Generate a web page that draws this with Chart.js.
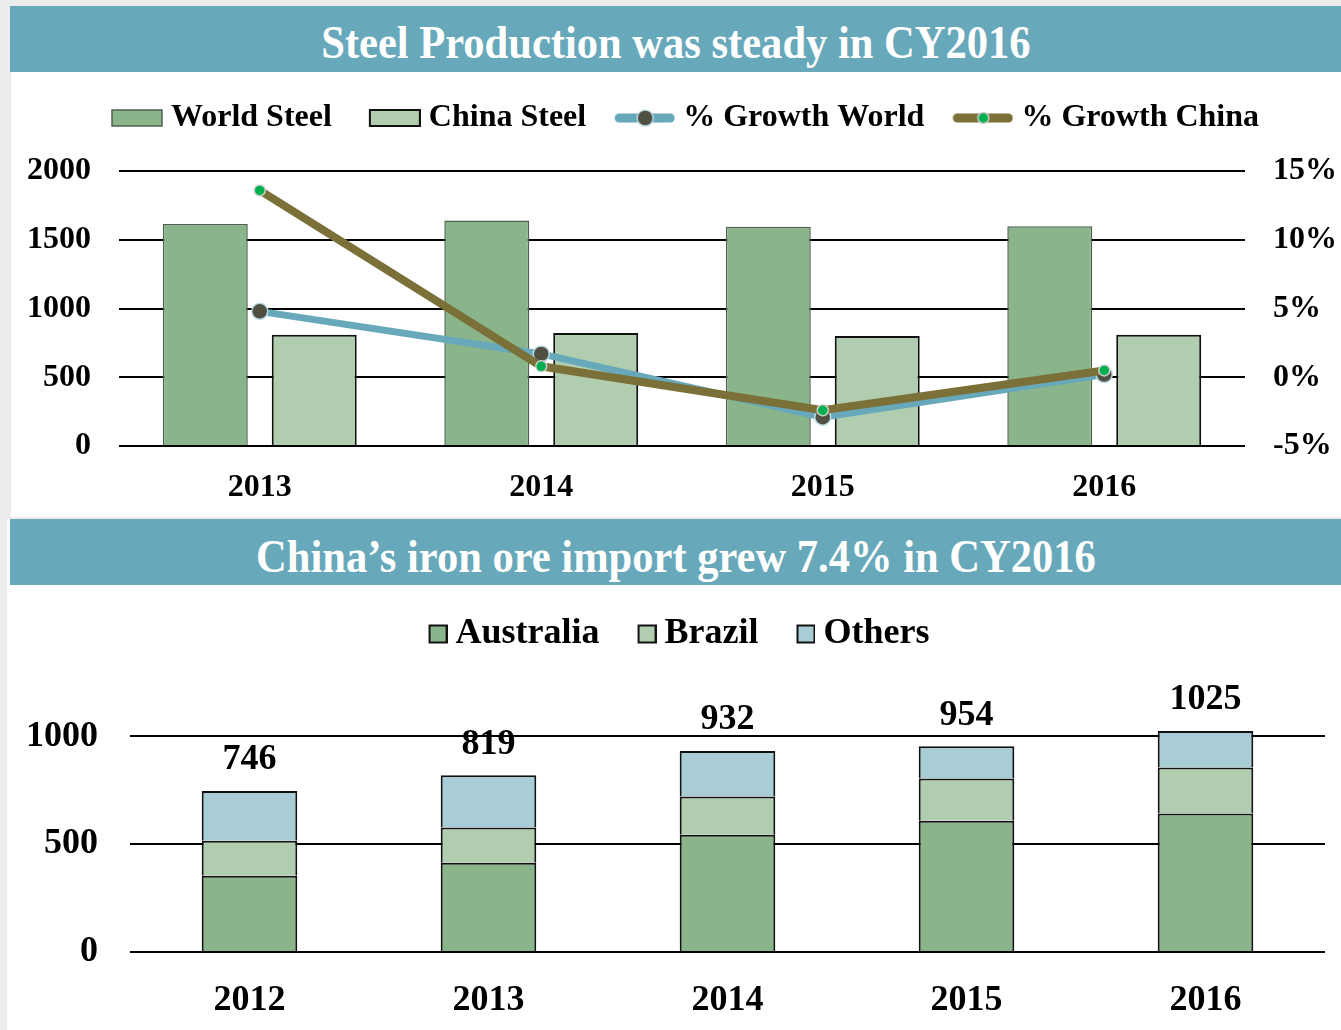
<!DOCTYPE html>
<html>
<head>
<meta charset="utf-8">
<script src="https://cdn.jsdelivr.net/npm/chart.js@4.4.0/dist/chart.umd.min.js"></script>
<style>
  body { margin: 0; width: 1341px; height: 1030px; background: #ececec; overflow: hidden; position: relative; font-family: 'Liberation Serif', 'Times New Roman', serif; }
  .panel { position: absolute; background: #fff; }
  .band { position: absolute; background: #67a8ba; color: #fff; font-weight: bold; font-size: 47px; text-align: center; white-space: nowrap; }
  .band span { display: inline-block; transform: scaleX(0.905); }
  .box { position: absolute; }
</style>
</head>
<body>
<div class="panel" style="left:11px; top:6px; width:1330px; height:511px;"></div>
<div class="panel" style="left:7px; top:519px; width:1334px; height:511px;"></div>
<div class="band" style="left:10px; top:6px; width:1331px; height:66px; line-height:72px;"><span>Steel Production was steady in CY2016</span></div>
<div class="band" style="left:10px; top:519px; width:1331px; height:66px; line-height:74px;"><span>China’s iron ore import grew 7.4% in CY2016</span></div>
<div class="box" style="left:10px; top:72px; width:1331px; height:443px;"><canvas id="steelChart"></canvas></div>
<div class="box" style="left:8px; top:586px; width:1333px; height:444px;"><canvas id="oreChart"></canvas></div>
<script>
// Steel production (top chart)
const steelYears = ['2013', '2014', '2015', '2016'];
const worldSteel = [1615, 1641, 1595, 1600];
const chinaSteel = [810, 822, 800, 810];
const growthWorld = [4.8, 1.7, -2.9, 0.2];
const growthChina = [13.6, 0.8, -2.4, 0.5];

// Iron ore imports (bottom chart)
const oreYears = ['2012', '2013', '2014', '2015', '2016'];
const australia = [353, 414, 544, 609, 642];
const brazil = [163, 163, 177, 196, 214];
const others = [230, 242, 211, 149, 169];
const oreTicks = [0, 500, 1000];

const serif = "'Liberation Serif', 'Times New Roman', serif";

// legend symbols drawn into small canvases, right aligned so they sit close to the text
function symbolCanvas(w, h, draw) {
    const c = document.createElement('canvas');
    c.width = w;
    c.height = h;
    draw(c.getContext('2d'), w, h);
    return c;
}

function barSymbol(w, fill, border, bw, sw, sh) {
    return symbolCanvas(w, sh + 4, (g, W, H) => {
        g.fillStyle = fill;
        g.fillRect(W - sw - 1, 2, sw, sh);
        g.strokeStyle = border;
        g.lineWidth = bw;
        g.strokeRect(W - sw - 1, 2, sw, sh);
    });
}

function lineSymbol(w, lineColor, dot, ring, r) {
    return symbolCanvas(w, 20, (g, W, H) => {
        g.strokeStyle = lineColor;
        g.lineWidth = 9;
        g.lineCap = 'round';
        g.beginPath();
        g.moveTo(W - 56, H / 2);
        g.lineTo(W - 5, H / 2);
        g.stroke();
        g.beginPath();
        g.arc(W - 30, H / 2, r, 0, Math.PI * 2);
        g.fillStyle = dot;
        g.fill();
        g.lineWidth = 1.5;
        g.strokeStyle = ring;
        g.stroke();
    });
}

const steelSymbols = [
    barSymbol(71, '#8ab48a', '#4f5f4f', 1.5, 50, 16),
    barSymbol(71, '#b0cdb0', '#111', 2, 50, 16),
    lineSymbol(71, '#67a8ba', '#4f4f42', '#b9dbe3', 8),
    lineSymbol(71, '#7a7038', '#00b050', '#cfcfcf', 5.5)
];

const oreSymbols = [
    barSymbol(40, '#8ab48a', '#111', 2, 17, 17),
    barSymbol(40, '#b0cdb0', '#111', 2, 17, 17),
    barSymbol(40, '#a9cdd6', '#111', 2, 17, 17)
];

function legendItems(symbols) {
    return chart => chart.data.datasets.map((ds, i) => ({
        text: ds.label,
        pointStyle: symbols[i],
        datasetIndex: i,
        hidden: false,
        fontColor: '#000',
        lineWidth: 0
    }));
}

// total above each stacked column
const totalLabels = {
    id: 'totalLabels',
    afterDatasetsDraw(chart) {
        const ctx = chart.ctx;
        const x = chart.scales.x;
        const y = chart.scales.y;
        ctx.save();
        ctx.font = 'bold 36px ' + serif;
        ctx.fillStyle = '#000';
        ctx.textAlign = 'center';
        ctx.textBaseline = 'middle';
        oreYears.forEach((yr, i) => {
            const total = australia[i] + brazil[i] + others[i];
            ctx.fillText(String(total), x.getPixelForValue(i), y.getPixelForValue(total) - 31);
        });
        ctx.restore();
    }
};

const ctx1 = document.getElementById('steelChart');

new Chart(ctx1, {
    type: 'bar',
    data: {
        labels: steelYears,
        datasets: [{
            label: 'World Steel',
            data: worldSteel,
            backgroundColor: '#8ab48a',
            borderColor: '#4f5f4f',
            borderWidth: 1.5,
            yAxisID: 'y',
            order: 2
        }, {
            label: 'China Steel',
            data: chinaSteel,
            backgroundColor: '#b0cdb0',
            borderColor: '#111',
            borderWidth: 2,
            yAxisID: 'y',
            order: 3
        }, {
            type: 'line',
            label: '% Growth World',
            data: growthWorld,
            borderColor: '#67a8ba',
            borderWidth: 7,
            pointRadius: 8,
            pointBackgroundColor: '#4f4f42',
            pointBorderColor: '#b9dbe3',
            pointBorderWidth: 1.5,
            tension: 0,
            yAxisID: 'y1',
            order: 1
        }, {
            type: 'line',
            label: '% Growth China',
            data: growthChina,
            borderColor: '#7a7038',
            borderWidth: 8,
            pointRadius: 5.5,
            pointBackgroundColor: '#00b050',
            pointBorderColor: '#cfcfcf',
            pointBorderWidth: 1.5,
            tension: 0,
            yAxisID: 'y1',
            order: 0
        }]
    },
    options: {
        responsive: true,
        maintainAspectRatio: false,
        animation: false,
        categoryPercentage: 0.774,
        barPercentage: 0.78,
        layout: { padding: { top: 4, left: 8 } },
        plugins: {
            tooltip: { enabled: false },
            legend: {
                labels: {
                    usePointStyle: true,
                    pointStyleWidth: 55,
                    padding: 26,
                    color: '#000',
                    font: { family: serif, size: 32, weight: 'bold' },
                    generateLabels: legendItems(steelSymbols)
                }
            },
            subtitle: {
                display: true,
                text: ' ',
                weight: 500,
                font: { size: 1 },
                padding: { top: 13, bottom: 13 }
            }
        },
        scales: {
            x: {
                grid: { display: false },
                border: { display: false },
                ticks: { color: '#000', padding: 15, font: { family: serif, size: 32, weight: 'bold' } },
                afterFit: s => { s.height = 69; }
            },
            y: {
                min: 0,
                max: 2000,
                ticks: {
                    stepSize: 500,
                    color: '#000',
                    padding: 28,
                    font: { family: serif, size: 32, weight: 'bold' },
                    callback: v => String(v)
                },
                grid: { color: '#000', lineWidth: 2, drawTicks: false },
                border: { display: false },
                afterFit: s => { s.width = 101; }
            },
            y1: {
                position: 'right',
                min: -5,
                max: 15,
                ticks: {
                    stepSize: 5,
                    color: '#000',
                    padding: 28,
                    font: { family: serif, size: 32, weight: 'bold' },
                    callback: v => v + '%'
                },
                grid: { display: false, drawTicks: false },
                border: { display: false },
                afterFit: s => { s.width = 96; }
            }
        }
    }
});

const ctx2 = document.getElementById('oreChart');

new Chart(ctx2, {
    type: 'bar',
    data: {
        labels: oreYears,
        datasets: [{
            label: 'Australia',
            data: australia,
            backgroundColor: '#8ab48a',
            borderColor: '#111',
            borderWidth: 2
        }, {
            label: 'Brazil',
            data: brazil,
            backgroundColor: '#b0cdb0',
            borderColor: '#111',
            borderWidth: 2
        }, {
            label: 'Others',
            data: others,
            backgroundColor: '#a9cdd6',
            borderColor: '#111',
            borderWidth: 2
        }]
    },
    plugins: [totalLabels],
    options: {
        responsive: true,
        maintainAspectRatio: false,
        animation: false,
        categoryPercentage: 0.8,
        barPercentage: 0.5,
        layout: { padding: { top: 3, left: 14, right: 16 } },
        plugins: {
            tooltip: { enabled: false },
            legend: {
                labels: {
                    usePointStyle: true,
                    pointStyleWidth: 20,
                    padding: 27,
                    color: '#000',
                    font: { family: serif, size: 36, weight: 'bold' },
                    generateLabels: legendItems(oreSymbols)
                }
            },
            subtitle: {
                display: true,
                text: ' ',
                weight: 500,
                font: { size: 1 },
                padding: { top: 15, bottom: 15 }
            }
        },
        scales: {
            x: {
                stacked: true,
                grid: { display: false },
                border: { display: false },
                ticks: { color: '#000', padding: 19, font: { family: serif, size: 36, weight: 'bold' } },
                afterFit: s => { s.height = 78; }
            },
            y: {
                stacked: true,
                min: 0,
                max: 1200,
                afterBuildTicks: s => { s.ticks = oreTicks.map(v => ({ value: v })); },
                ticks: {
                    autoSkip: false,
                    color: '#000',
                    padding: 32,
                    font: { family: serif, size: 36, weight: 'bold' },
                    callback: v => String(v)
                },
                grid: { color: '#000', lineWidth: 2, drawTicks: false },
                border: { display: false },
                afterFit: s => { s.width = 108; }
            }
        }
    }
});
</script>
</body>
</html>
